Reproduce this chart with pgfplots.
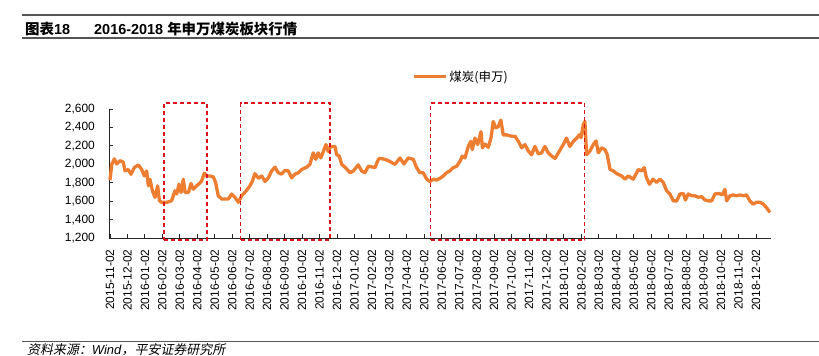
\documentclass[border=0pt]{standalone}
\usepackage{pgfplots}
\pgfplotsset{compat=1.18}
\usepackage{fontspec}
\setmainfont{Liberation Sans}
\newfontfamily\cjk{Noto Sans CJK SC}
\newfontfamily\cjkit{Noto Sans CJK SC}[FakeSlant=0.2]
\definecolor{coal}{HTML}{ED7D31}
\definecolor{boxred}{HTML}{D9141B}
\definecolor{rule}{HTML}{555555}
\pgfplotstableread{
m v
0.00 1830
0.10 2000
0.25 2060
0.38 2005
0.57 2040
0.76 2025
0.86 1930
1.05 1945
1.20 1893
1.39 1964
1.62 1995
1.81 1946
1.97 1875
2.10 1929
2.20 1768
2.29 1839
2.43 1714
2.58 1643
2.73 1768
2.83 1607
2.96 1589
3.25 1589
3.53 1607
3.72 1714
3.82 1679
3.95 1786
4.07 1696
4.20 1840
4.30 1696
4.49 1696
4.64 1793
4.77 1732
4.96 1768
5.12 1793
5.25 1821
5.40 1905
5.54 1875
5.73 1875
5.92 1864
6.05 1804
6.20 1661
6.40 1625
6.78 1625
6.97 1679
7.16 1643
7.35 1589
7.45 1625
7.54 1661
7.64 1680
7.83 1720
8.02 1770
8.15 1815
8.30 1900
8.50 1850
8.69 1875
8.88 1815
9.07 1855
9.26 1930
9.45 1970
9.64 1910
9.83 1895
10.02 1935
10.21 1930
10.40 1855
10.60 1895
10.79 1910
10.98 1945
11.26 1970
11.45 2000
11.64 2125
11.79 2055
11.92 2125
12.07 2070
12.22 2140
12.37 2215
12.50 2140
12.64 2195
12.89 2195
12.98 2105
13.13 2090
13.27 2000
13.46 1970
13.75 1910
13.94 1930
14.22 1995
14.41 1930
14.60 1910
14.80 1980
15.08 1970
15.18 1965
15.37 2055
15.46 2065
15.75 2055
16.00 2035
16.32 2000
16.61 2070
16.84 2005
17.08 2070
17.37 2055
17.56 1965
17.75 1910
17.94 1910
18.14 1840
18.33 1815
18.52 1840
18.71 1830
18.90 1850
19.09 1875
19.28 1910
19.47 1930
19.66 1965
19.86 1980
20.05 2035
20.18 2090
20.33 2070
20.52 2195
20.67 2250
20.75 2160
20.90 2285
21.06 2215
21.25 2355
21.33 2180
21.48 2220
21.67 2185
21.82 2285
21.95 2465
22.09 2395
22.24 2410
22.39 2480
22.52 2320
22.72 2320
23.00 2305
23.20 2305
23.39 2250
23.58 2180
23.77 2215
23.96 2145
24.15 2105
24.34 2195
24.53 2115
24.72 2125
24.91 2195
25.10 2125
25.30 2090
25.49 2065
25.68 2125
25.96 2215
26.15 2285
26.34 2195
26.54 2250
26.73 2285
26.88 2320
26.98 2290
27.11 2430
27.20 2465
27.30 2105
27.49 2145
27.68 2215
27.84 2255
27.97 2125
28.16 2180
28.35 2160
28.48 2105
28.64 1945
28.83 1930
29.02 1900
29.31 1875
29.50 1840
29.69 1875
29.97 1840
30.26 1945
30.45 1930
30.60 1965
30.72 1860
30.90 1785
31.10 1840
31.31 1805
31.50 1840
31.69 1805
31.88 1715
32.07 1680
32.27 1605
32.46 1605
32.65 1680
32.84 1685
32.96 1615
33.12 1680
33.31 1660
33.50 1660
33.70 1645
33.89 1650
34.08 1615
34.27 1605
34.46 1605
34.65 1680
34.88 1685
35.07 1670
35.22 1730
35.32 1605
35.51 1660
35.70 1670
35.89 1660
36.08 1670
36.27 1660
36.46 1670
36.65 1605
36.84 1570
37.03 1590
37.23 1590
37.42 1570
37.61 1530
37.80 1480
}\coaldata
\begin{document}
\begin{tikzpicture}
\path[use as bounding box] (0bp,0bp) rectangle (819bp,356bp);
% header rules and title
\draw[line width=2bp, rule] (22bp,341bp) -- (819bp,341bp);
\draw[line width=1.3bp, rule] (22bp,318bp) -- (819bp,318bp);
\node[anchor=base west, inner sep=0pt] at (25bp,321.5bp)
  {\fontsize{14.5}{16}\selectfont\bfseries{\cjk 图表}18};
\node[anchor=base west, inner sep=0pt] at (94bp,321.5bp)
  {\fontsize{14.5}{16}\selectfont\bfseries 2016-2018 {\cjk 年申万煤炭板块行情}};
% footer
\draw[line width=1.3bp, rule] (22bp,14.3bp) -- (819bp,14.3bp);
\node[anchor=west, inner sep=0pt] at (27bp,6.5bp)
  {\fontsize{13}{15}\selectfont{\cjkit 资料来源：}\textit{Wind}{\cjkit ，平安证券研究所}};
\begin{axis}[
  at={(109bp,117.7bp)}, anchor=south west,
  scale only axis, width=662bp, height=129.3bp,
  xmin=-0.057, xmax=37.86, ymin=1200, ymax=2600,
  axis x line*=bottom, axis y line*=left,
  axis line style={black!85, line width=0.9bp},
  tick style={black!85, line width=0.9bp},
  tick align=inside, major tick length=4bp,
  ytick={1200,1400,...,2600},
  xtick={0,...,37},
  xticklabels={2015-11-02,2015-12-02,2016-01-02,2016-02-02,2016-03-02,2016-04-02,2016-05-02,2016-06-02,2016-07-02,2016-08-02,2016-09-02,2016-10-02,2016-11-02,2016-12-02,2017-01-02,2017-02-02,2017-03-02,2017-04-02,2017-05-02,2017-06-02,2017-07-02,2017-08-02,2017-09-02,2017-10-02,2017-11-02,2017-12-02,2018-01-02,2018-02-02,2018-03-02,2018-04-02,2018-05-02,2018-06-02,2018-07-02,2018-08-02,2018-09-02,2018-10-02,2018-11-02,2018-12-02},
  xticklabel style={rotate=90, anchor=east, inner xsep=11bp, font=\fontsize{12}{14}\selectfont},
  yticklabel style={anchor=east, inner xsep=14bp, font=\fontsize{12}{14}\selectfont},
  /pgf/number format/assume math mode=true,
  /pgf/number format/1000 sep={,},
  clip=false,
  legend style={at={(0.4577,1.251)}, anchor=west, draw=none, fill=none,
    inner sep=0pt, font=\cjk\fontsize{12.5}{14}\selectfont},
  legend image code/.code={\draw[#1, line width=3.3bp] (0bp,0bp) -- (32bp,0bp);},
]
\addplot[coal, line width=3.3bp, line join=round] table[x=m, y=v] {\coaldata};
\addlegendentry{煤炭(申万)}
\addplot[boxred, line width=1.2bp, dash pattern=on 4bp off 3bp, forget plot]
  coordinates {(3.09,1182) (5.56,1182) (5.56,2665) (3.09,2665) (3.09,1182)};
\addplot[boxred, line width=1.2bp, dash pattern=on 4bp off 3bp, forget plot]
  coordinates {(7.49,1182) (12.6,1182) (12.6,2665) (7.49,2665) (7.49,1182)};
\addplot[boxred, line width=1.2bp, dash pattern=on 4bp off 3bp, forget plot]
  coordinates {(18.37,1182) (27.2,1182) (27.2,2665) (18.37,2665) (18.37,1182)};
\end{axis}
\end{tikzpicture}
\end{document}
